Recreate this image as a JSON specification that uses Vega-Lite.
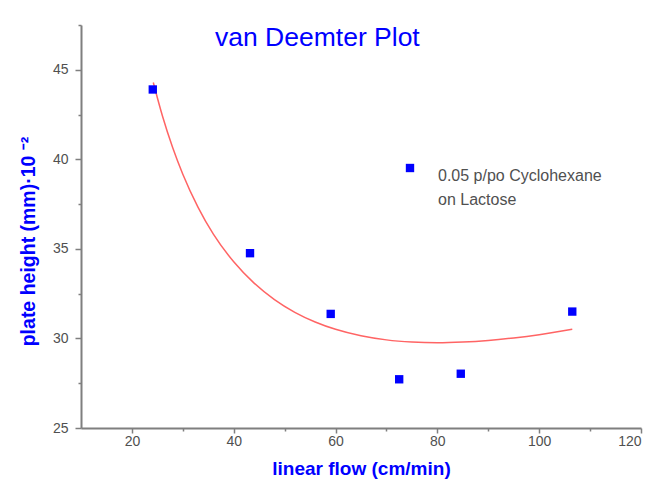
{
  "$schema": "https://vega.github.io/schema/vega-lite/v6.json",
  "width": 560,
  "height": 403,
  "autosize": "none",
  "padding": {"left": 81, "top": 25, "right": 16, "bottom": 67},
  "background": "white",
  "config": {
    "view": {"stroke": null},
    "font": "Liberation Sans",
    "style": {"guide-label": {"lineHeight": 24}}
  },
  "title": {
    "text": "van Deemter Plot",
    "color": "#0000ff",
    "font": "Liberation Sans",
    "fontSize": 26.5,
    "fontWeight": "normal",
    "anchor": "start",
    "frame": "group",
    "dx": 134,
    "baseline": "alphabetic",
    "offset": -48
  },
  "datasets": {
    "points": [
      {"u": 24.1, "H": 43.9, "series": "0.05 p/po Cyclohexane|on Lactose"},
      {"u": 43.2, "H": 34.76, "series": "0.05 p/po Cyclohexane|on Lactose"},
      {"u": 59.05, "H": 31.37, "series": "0.05 p/po Cyclohexane|on Lactose"},
      {"u": 72.5, "H": 27.72, "series": "0.05 p/po Cyclohexane|on Lactose"},
      {"u": 84.6, "H": 28.03, "series": "0.05 p/po Cyclohexane|on Lactose"},
      {"u": 106.5, "H": 31.5, "series": "0.05 p/po Cyclohexane|on Lactose"}
    ],
    "fit": [
      {"u": 24.2, "H": 44.29},
      {"u": 26, "H": 42.42},
      {"u": 28, "H": 40.66},
      {"u": 30, "H": 39.17},
      {"u": 33, "H": 37.32},
      {"u": 36, "H": 35.82},
      {"u": 40, "H": 34.28},
      {"u": 44, "H": 33.09},
      {"u": 48, "H": 32.17},
      {"u": 52, "H": 31.46},
      {"u": 56, "H": 30.92},
      {"u": 60, "H": 30.51},
      {"u": 65, "H": 30.15},
      {"u": 70, "H": 29.92},
      {"u": 75, "H": 29.8},
      {"u": 80, "H": 29.76},
      {"u": 85, "H": 29.8},
      {"u": 90, "H": 29.89},
      {"u": 95, "H": 30.03},
      {"u": 100, "H": 30.21},
      {"u": 106.5, "H": 30.51}
    ]
  },
  "layer": [
    {
      "data": {"name": "fit"},
      "mark": {"type": "line", "interpolate": "monotone", "color": "#ff6464", "strokeWidth": 1.5},
      "encoding": {
        "x": {
          "field": "u", "type": "quantitative",
          "scale": {"domain": [10, 120], "nice": false, "zero": false},
          "axis": {
            "orient": "bottom",
            "values": [20, 40, 60, 80, 100, 120],
            "grid": false,
            "domainColor": "#7f7f7f", "domainWidth": 2,
            "tickColor": "#7f7f7f", "tickWidth": 1.5, "tickSize": 5,
            "labelFont": "Liberation Sans", "labelFontSize": 14, "labelColor": "#505050", "labelPadding": 1,
            "title": "linear flow (cm/min)",
            "titleColor": "#0000ff", "titleFont": "Liberation Sans", "titleFontSize": 19, "titleFontWeight": "bold",
            "titlePadding": 11
          }
        },
        "y": {
          "field": "H", "type": "quantitative",
          "scale": {"domain": [25, 47.5], "nice": false, "zero": false},
          "axis": {
            "orient": "left",
            "values": [25, 30, 35, 40, 45],
            "grid": false,
            "domainColor": "#7f7f7f", "domainWidth": 2,
            "tickColor": "#7f7f7f", "tickWidth": 1.5, "tickSize": 6,
            "labelFont": "Liberation Sans", "labelFontSize": 14, "labelColor": "#505050", "labelPadding": 7,
            "title": "plate height (mm)·10 ⁻²",
            "titleColor": "#0000ff", "titleFont": "Liberation Sans", "titleFontSize": 19.5, "titleFontWeight": "bold",
            "titlePadding": 14, "titleY": 216
          }
        }
      }
    },
    {
      "data": {"name": "points"},
      "mark": {"type": "square", "size": 70, "opacity": 1, "filled": true},
      "encoding": {
        "x": {
          "field": "u", "type": "quantitative",
          "axis": {
            "orient": "bottom",
            "values": [30, 50, 70, 90, 110],
            "grid": false, "domain": false, "labels": false, "title": null,
            "tickColor": "#7f7f7f", "tickWidth": 1.5, "tickSize": 3
          }
        },
        "y": {
          "field": "H", "type": "quantitative",
          "axis": {
            "orient": "left",
            "values": [27.5, 32.5, 37.5, 42.5, 47.5],
            "grid": false, "domain": false, "labels": false, "title": null,
            "tickColor": "#7f7f7f", "tickWidth": 1.5, "tickSize": 3
          }
        },
        "color": {
          "field": "series", "type": "nominal",
          "scale": {"range": ["#0000ff"]},
          "legend": {
            "orient": "none",
            "legendX": 321,
            "legendY": 135,
            "title": null,
            "padding": 0,
            "symbolType": "square",
            "symbolSize": 70,
            "symbolStrokeWidth": 0,
            "labelFont": "Liberation Sans",
            "labelFontSize": 16,
            "labelColor": "#505050",
            "labelLimit": 0,
            "labelOffset": 20,
            "labelBaseline": "top",
            "labelExpr": "split(datum.label, '|')"
          }
        }
      }
    }
  ],
  "resolve": {"axis": {"x": "independent", "y": "independent"}}
}
